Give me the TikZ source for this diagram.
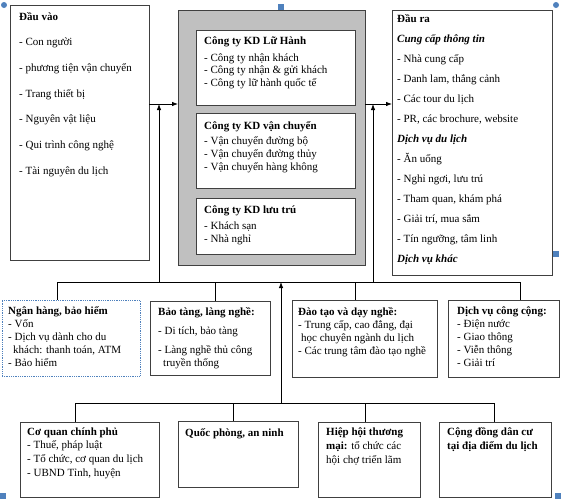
\documentclass[tikz,border=0pt]{standalone}
\usepackage{fontspec}
\setmainfont{Liberation Serif}
\usetikzlibrary{arrows.meta}
\definecolor{boxline}{HTML}{404040}
\definecolor{coregray}{HTML}{C0C0C0}
\definecolor{selblue}{HTML}{4F81BD}
\newcommand\txtlines[5]{%
  \foreach \t [count=\i from 0] in {#5} {\node[txt] (#1-\i) at (#2,{#3+#4*\i}) {\t};}}
\begin{document}
\begin{tikzpicture}[x=1pt,y=-1pt,
  box/.style={draw=boxline, line width=0.8pt, fill=white, anchor=north west, inner sep=0pt, outer sep=0pt},
  corebox/.style={box, fill=coregray},
  selbox/.style={box, draw=selblue, densely dotted, line width=0.9pt},
  conn/.style={draw=black, line width=0.8pt},
  arr/.style={conn, -{Latex[length=6pt,width=4.5pt]}},
  handle/.style={fill=selblue, draw=none, inner sep=0pt, minimum size=6pt},
  txt/.style={anchor=base west, inner sep=0pt, font=\fontsize{11}{13}\selectfont}]
\useasboundingbox (0,0) rectangle (562,499);

% top row
\node[box, minimum width=139pt, minimum height=255pt] (inp) at (10,5) {};
\node[corebox, minimum width=187pt, minimum height=255pt] (core) at (178,10) {};
\node[box, minimum width=159pt, minimum height=75pt] (c1) at (196,30) {};
\node[box, minimum width=159pt, minimum height=75pt] (c2) at (196,113) {};
\node[box, minimum width=159pt, minimum height=56pt] (c3) at (196,198) {};
\node[box, minimum width=160pt, minimum height=265pt] (out) at (392,10) {};

% middle row
\node[selbox, minimum width=138pt, minimum height=76pt] (bank) at (2,300) {};
\node[box, minimum width=120pt, minimum height=74pt] (museum) at (150,301) {};
\node[box, minimum width=145pt, minimum height=77pt] (edu) at (292,300) {};
\node[box, minimum width=111pt, minimum height=77pt] (pub) at (448,300) {};

% bottom row
\node[box, minimum width=139pt, minimum height=75pt] (gov) at (20,422) {};
\node[box, minimum width=120pt, minimum height=66pt] (def) at (178,421) {};
\node[box, minimum width=102pt, minimum height=75pt] (assoc) at (318,422) {};
\node[box, minimum width=112pt, minimum height=75pt] (comm) at (439,422) {};

% texts
\txtlines{inp}{19}{20}{25.7}{{\textbf{Đầu vào}},{- Con người},{- phương tiện vận chuyển},{- Trang thiết bị},{- Nguyên vật liệu},{- Qui trình công nghệ},{- Tài nguyên du lịch}}

\node[txt] (c1-t) at (204,44) {\textbf{Công ty KD Lữ Hành}};
\txtlines{c1}{204}{61}{12.6}{{- Công ty nhận khách},{- Công ty nhận \& gửi khách},{- Công ty lữ hành quốc tế}}
\node[txt] (c2-t) at (204,129) {\textbf{Công ty KD vận chuyển}};
\txtlines{c2}{204}{144.5}{12.8}{{- Vận chuyển đường bộ},{- Vận chuyển đường thủy},{- Vận chuyển hàng không}}
\node[txt] (c3-t) at (204,213) {\textbf{Công ty KD lưu trú}};
\txtlines{c3}{204}{229.5}{12.8}{{- Khách sạn},{- Nhà nghỉ}}

\txtlines{out}{397}{22}{20}{{\textbf{Đầu ra}},{\textbf{\itshape Cung cấp thông tin}},{- Nhà cung cấp},{- Danh lam, thắng cảnh},{- Các tour du lịch},{- PR, các brochure, website},{\textbf{\itshape Dịch vụ du lịch}},{- Ăn uống},{- Nghỉ ngơi, lưu trú},{- Tham quan, khám phá},{- Giải trí, mua sắm},{- Tín ngưỡng, tâm linh},{\textbf{\itshape Dịch vụ khác}}}

\txtlines{bank}{8}{314}{13}{{\textbf{Ngân hàng, bảo hiểm}},{- Vốn},{- Dịch vụ dành cho du},{\hspace{5pt}khách: thanh toán, ATM},{- Bảo hiểm}}
\node[txt] (museum-t) at (158,315) {\textbf{Bảo tàng, làng nghề:}};
\txtlines{museum}{158}{334}{19}{{- Di tích, bảo tàng},{- Làng nghề thủ công}}
\node[txt] (museum-x) at (163,366) {truyền thống};
\txtlines{edu}{298}{315}{13}{{\textbf{Đào tạo và dạy nghề:}},{- Trung cấp, cao đẳng, đại},{\hspace{3pt}học chuyên ngành du lịch},{- Các trung tâm đào tạo nghề}}
\txtlines{pub}{457}{314}{13}{{\textbf{Dịch vụ công cộng:}},{- Điện nước},{- Giao thông},{- Viễn thông},{- Giải trí}}

\txtlines{gov}{27}{435}{13.7}{{\textbf{Cơ quan chính phủ}},{- Thuế, pháp luật},{- Tổ chức, cơ quan du lịch},{- UBND Tỉnh, huyện}}
\node[txt] (def-t) at (185,436) {\textbf{Quốc phòng, an ninh}};
\txtlines{assoc}{326}{435}{14}{{\textbf{Hiệp hội thương}},{\textbf{mại:} tổ chức các},{hội chợ triển lãm}}
\txtlines{comm}{447}{435}{14}{{\textbf{Cộng đồng dân cư}},{\textbf{tại địa điểm du lịch}}}

% junction coordinates
\coordinate (jL) at (159,104);
\coordinate (jR) at (373,104);
\coordinate (mL) at (159,282);
\coordinate (mR) at (373,282);
\coordinate (mB) at (281,282);
\coordinate (bB) at (281,403);
\coordinate (m1) at (57,282);
\coordinate (m2) at (215,282);
\coordinate (m3) at (355,282);
\coordinate (m4) at (520,282);
\coordinate (b1) at (75,403);
\coordinate (b2) at (233,403);
\coordinate (b3) at (365,403);
\coordinate (b4) at (494,403);

% connectors
\draw[arr] (inp.east |- jL) -- (core.west |- jL);
\draw[arr] (core.east |- jR) -- (out.west |- jR);
\draw[arr] (mL) -- (jL);
\draw[arr] (mR) -- (jR);
\draw[conn] (m1) -- (m4);
\draw[conn] (m1) -- (m1 |- bank.north);
\draw[conn] (m2) -- (m2 |- museum.north);
\draw[conn] (m3) -- (m3 |- edu.north);
\draw[conn] (m4) -- (m4 |- pub.north);
\draw[conn] (b1) -- (b4);
\draw[conn] (b1) -- (b1 |- gov.north);
\draw[conn] (b2) -- (b2 |- def.north);
\draw[conn] (b3) -- (b3 |- assoc.north);
\draw[conn] (b4) -- (b4 |- comm.north);
\draw[arr] (bB) -- (mB);

% selection handles
\node[handle, circle, minimum size=6pt] (h1) at (4,5) {};
\node[handle] (h2) at (281,7) {};
\node[handle, circle, minimum size=6pt] (h3) at (556,5) {};
\node[handle] (h4) at (556,254) {};
\node[handle] (h5) at (3,496) {};
\node[handle] (h6) at (558,496) {};
\end{tikzpicture}
\end{document}
